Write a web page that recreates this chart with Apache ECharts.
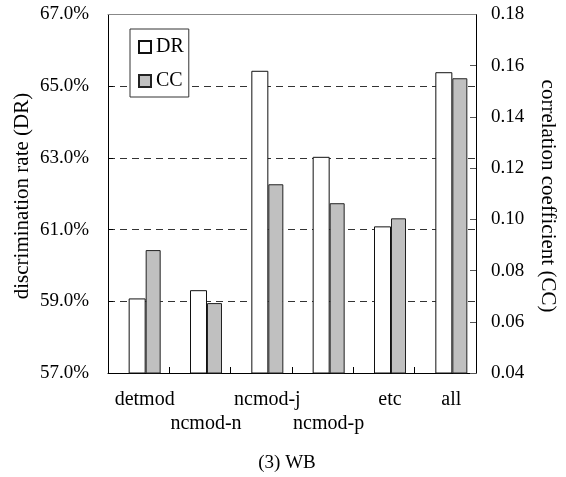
<!DOCTYPE html>
<html>
<head>
<meta charset="utf-8">
<script src="https://cdn.jsdelivr.net/npm/echarts@6/dist/echarts.min.js"></script>
<style>
html,body{margin:0;padding:0;background:#fff;}
#chart{width:566px;height:477px;}
</style>
</head>
<body>
<div id="chart"></div>
<script>
var categories = ['detmod', 'ncmod-n', 'ncmod-j', 'ncmod-p', 'etc', 'all'];
var drValues = [59.08, 59.31, 65.43, 63.03, 61.09, 65.39];
var ccValues = [0.088, 0.0673, 0.1137, 0.1063, 0.1004, 0.1551];
var drAxis = { min: 57, max: 67, interval: 2 };
var ccAxis = { min: 0.04, max: 0.18, interval: 0.02 };
var seriesNames = ['DR', 'CC'];
var titleText = '(3) WB';
var leftAxisName = 'discrimination rate (DR)';
var rightAxisName = 'correlation coefficient (CC)';

var FONT = "'Liberation Serif', 'Times New Roman', serif";
var chart = echarts.init(document.getElementById('chart'), null, { renderer: 'canvas' });

// labels placed on the lower row (staggered) in the original
var lowerRow = { 'ncmod-n': true, 'ncmod-p': true };

var gTop = 14.5, gBottom = 104;
var option = {
  animation: false,
  backgroundColor: '#fff',
  textStyle: { fontFamily: FONT, color: '#000' },
  grid: [
    { left: 108, right: 90, top: gTop, bottom: gBottom, containLabel: false },
    { left: 114, right: 84, top: gTop, bottom: gBottom, containLabel: false }
  ],
  legend: {
    data: seriesNames,
    orient: 'vertical',
    left: 130, top: 29,
    icon: 'rect',
    itemWidth: 12, itemHeight: 12,
    itemGap: 14,
    padding: [8, 5, 6, 8],
    backgroundColor: '#fff',
    borderColor: '#333',
    borderWidth: 1,
    z: 20,
    textStyle: { fontFamily: FONT, fontSize: 20, color: '#000' }
  },
  xAxis: [
    {
      type: 'category', gridIndex: 0, data: categories, position: 'bottom',
      axisLine: { lineStyle: { color: '#000', width: 1 } },
      axisTick: { show: true, inside: true, length: 6, lineStyle: { color: '#000' } },
      axisLabel: { show: false },
      splitLine: { show: false }
    },
    {
      type: 'category', gridIndex: 0, data: categories, position: 'top', z: 10,
      axisLine: { lineStyle: { color: '#888', width: 1 } },
      axisTick: { show: false },
      axisLabel: { show: false },
      splitLine: { show: false }
    },
    {
      type: 'category', gridIndex: 1, data: categories, position: 'bottom',
      axisLine: { show: false },
      axisTick: { show: false },
      axisLabel: {
        show: true, interval: 0, margin: 15,
        fontFamily: FONT, fontSize: 20, color: '#000', lineHeight: 24,
        formatter: function (v) { return lowerRow[v] ? '\n' + v : v; }
      },
      splitLine: { show: false }
    }
  ],
  yAxis: [
    {
      type: 'value', gridIndex: 0, position: 'left',
      min: drAxis.min, max: drAxis.max, interval: drAxis.interval,
      axisLine: { show: true, lineStyle: { color: '#000' } },
      axisTick: { show: true, inside: true, length: 5, lineStyle: { color: '#000' } },
      axisLabel: {
        margin: 19, fontFamily: FONT, fontSize: 19, color: '#000',
        formatter: function (v) { return v.toFixed(1) + '%'; }
      },
      splitLine: { show: true, lineStyle: { color: '#333', type: [7, 5], width: 1 } }
    },
    {
      type: 'value', gridIndex: 0, position: 'right',
      min: ccAxis.min, max: ccAxis.max, interval: ccAxis.interval,
      axisLine: { show: true, lineStyle: { color: '#000' } },
      axisTick: { show: true, inside: true, length: 6, lineStyle: { color: '#555' } },
      axisLabel: {
        margin: 15, fontFamily: FONT, fontSize: 19, color: '#000',
        formatter: function (v) { return v.toFixed(2); }
      },
      splitLine: { show: false }
    },
    {
      type: 'value', gridIndex: 1, position: 'left',
      min: drAxis.min, max: drAxis.max, interval: drAxis.interval,
      show: false
    },
    {
      type: 'value', gridIndex: 1, position: 'right',
      min: ccAxis.min, max: ccAxis.max, interval: ccAxis.interval,
      show: false
    }
  ],
  series: [
    {
      name: seriesNames[0], type: 'bar', xAxisIndex: 2, yAxisIndex: 2,
      data: drValues, barWidth: 17, barGap: '0%',
      itemStyle: { color: '#fff', borderColor: '#111', borderWidth: 1 },
      z: 3
    },
    {
      name: seriesNames[1], type: 'bar', xAxisIndex: 2, yAxisIndex: 3,
      data: ccValues, barWidth: 15, barGap: '0%',
      itemStyle: { color: '#c0c0c0', borderColor: '#222', borderWidth: 1 },
      z: 3
    }
  ],
  graphic: [
    {
      type: 'text', x: 22, y: 196, rotation: Math.PI / 2,
      style: { text: leftAxisName, fontFamily: FONT, fontSize: 21, fill: '#000', align: 'center', verticalAlign: 'middle' }
    },
    {
      type: 'text', x: 548, y: 196, rotation: -Math.PI / 2,
      style: { text: rightAxisName, fontFamily: FONT, fontSize: 21, fill: '#000', align: 'center', verticalAlign: 'middle' }
    },
    {
      type: 'text', x: 287, y: 463,
      style: { text: titleText, fontFamily: FONT, fontSize: 19, fill: '#000', align: 'center', verticalAlign: 'middle' }
    }
  ]
};
chart.setOption(option);
</script>
</body>
</html>
